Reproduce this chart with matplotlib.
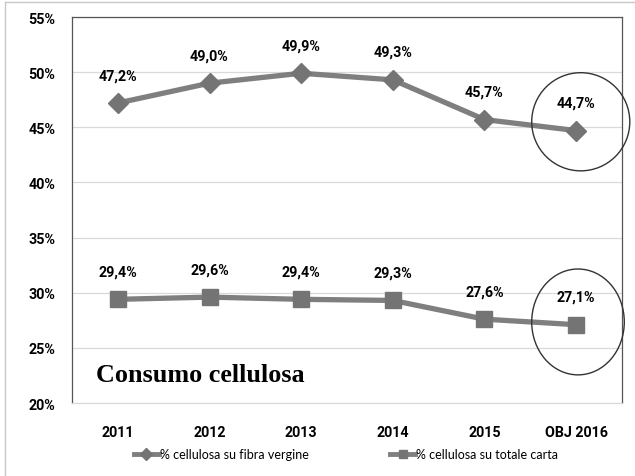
import matplotlib
matplotlib.use("Agg")
import matplotlib.pyplot as plt
from matplotlib.patches import Ellipse
from matplotlib.lines import Line2D

categories = ["2011", "2012", "2013", "2014", "2015", "OBJ 2016"]
fibra_vergine = [47.2, 49.0, 49.9, 49.3, 45.7, 44.7]
totale_carta = [29.4, 29.6, 29.4, 29.3, 27.6, 27.1]
series_names = ["% cellulosa su fibra vergine", "% cellulosa su totale carta"]
y_ticks = [20, 25, 30, 35, 40, 45, 50, 55]
title_text = "Consumo cellulosa"

label_font = ["Roboto", "DejaVu Sans"]
legend_font = ["Lato", "DejaVu Sans"]

fig = plt.figure(figsize=(6.35, 4.77), dpi=100)
ax = fig.add_axes([72 / 635, 1 - 404 / 477, 550 / 635, 386 / 477])

x = list(range(len(categories)))
line_col = "#7f7f7f"
mark_col = "#747474"

ax.plot(x, fibra_vergine, color=line_col, lw=3.8, marker="D", markersize=10.5,
        markerfacecolor=mark_col, markeredgecolor=mark_col, zorder=3)
ax.plot(x, totale_carta, color=line_col, lw=3.8, marker="s", markersize=11,
        markerfacecolor=mark_col, markeredgecolor=mark_col, zorder=3)

for xi, v in zip(x, fibra_vergine):
    ax.annotate(f"{v:.1f}%".replace(".", ","), (xi, v), xytext=(0, 15),
                textcoords="offset points", ha="center", va="bottom",
                fontsize=10.3, fontweight="bold", family=label_font)
for xi, v in zip(x, totale_carta):
    ax.annotate(f"{v:.1f}%".replace(".", ","), (xi, v), xytext=(0, 15),
                textcoords="offset points", ha="center", va="bottom",
                fontsize=10.3, fontweight="bold", family=label_font)

# Highlight the 2016 targets
ax.add_patch(Ellipse((5.05, 45.5), 1.07, 8.9, fill=False, ec="#333333",
                     lw=1.0, clip_on=False, zorder=4))
ax.add_patch(Ellipse((5.02, 27.35), 1.01, 9.6, fill=False, ec="#333333",
                     lw=1.0, clip_on=False, zorder=4))

ax.text(-0.24, 22.6, title_text, fontsize=18.8, fontweight="bold",
        family=["Liberation Serif", "DejaVu Serif"], ha="left", va="center")

ax.set_xlim(-0.5, len(categories) - 0.5)
ax.set_ylim(20, 55)
ax.set_yticks(y_ticks)
ax.set_yticklabels([f"{t}%" for t in y_ticks], fontsize=10.3, fontweight="bold",
                   family=label_font)
ax.set_xticks(x)
ax.set_xticklabels(categories, fontsize=10.3, fontweight="bold", family=label_font)
ax.tick_params(axis="both", length=0)
ax.tick_params(axis="y", pad=12)
ax.tick_params(axis="x", pad=16)

ax.grid(axis="y", color="#d9d9d9", lw=0.9)
ax.set_axisbelow(True)
for side in ["left", "top", "right"]:
    ax.spines[side].set_color("#555555")
    ax.spines[side].set_linewidth(0.9)
ax.spines["bottom"].set_color("#d9d9d9")

handles = [
    Line2D([], [], color=line_col, lw=3.5, marker="D", markersize=6,
           markerfacecolor=mark_col, markeredgecolor=mark_col),
    Line2D([], [], color=line_col, lw=3.5, marker="s", markersize=6,
           markerfacecolor=mark_col, markeredgecolor=mark_col),
]
fig.legend(handles, series_names, loc="center", bbox_to_anchor=(0.545, 1 - 455 / 477),
           ncol=2, frameon=False, handlelength=2.0, handletextpad=0.1,
           columnspacing=6.5, prop={"family": legend_font, "size": 9})

# Thin outer frame on the left and top edges
fig.add_artist(Line2D([5 / 635, 5 / 635], [0, 1 - 3 / 477], color="#c8c8c8", lw=1.0,
                      transform=fig.transFigure))
fig.add_artist(Line2D([5 / 635, 1], [1 - 3 / 477, 1 - 3 / 477], color="#c8c8c8",
                      lw=1.0, transform=fig.transFigure))

fig.savefig("out.png", dpi=100)
